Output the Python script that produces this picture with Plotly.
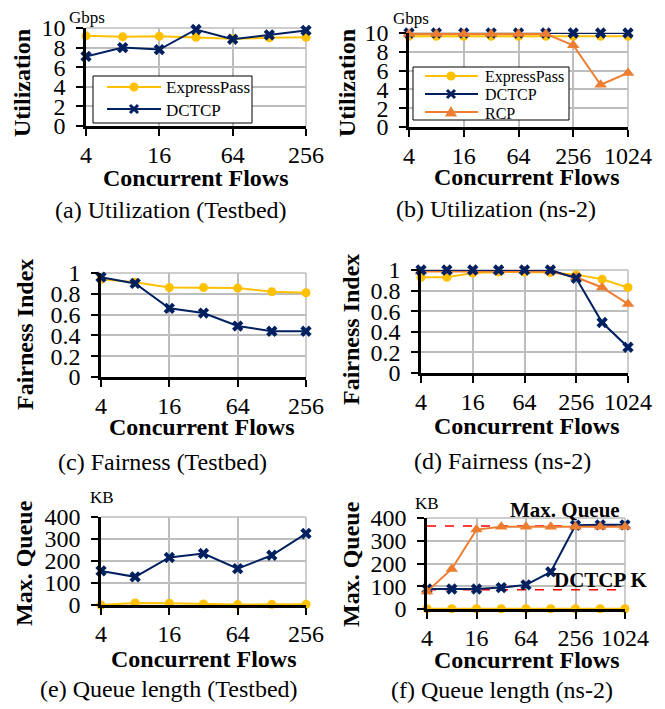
import math
import plotly.graph_objects as go

# page offset of the plot div (browser default body margin)
OFF = 8
FW, FH = 657, 701

# ---------------- data ----------------
flows_tb = [4, 8, 16, 32, 64, 128, 256]
flows_ns = [4, 8, 16, 32, 64, 128, 256, 512, 1024]
x_ticks_tb = [4, 16, 64, 256]
x_ticks_ns = [4, 16, 64, 256, 1024]

util_tb_ep = [9.2, 9.1, 9.15, 9.05, 8.9, 9.0, 9.05]
util_tb_dctcp = [7.1, 8.0, 7.8, 9.85, 8.85, 9.3, 9.75]
util_ns_ep = [9.65, 9.65, 9.65, 9.65, 9.65, 9.65, 9.65, 9.65, 9.65]
util_ns_dctcp = [10.0, 10.0, 10.0, 10.0, 10.0, 10.0, 10.0, 10.0, 10.0]
util_ns_rcp = [9.9, 9.9, 9.9, 9.9, 9.9, 9.9, 8.7, 4.5, 5.75]

fair_tb_ep = [0.94, 0.91, 0.86, 0.86, 0.855, 0.82, 0.81]
fair_tb_dctcp = [0.96, 0.90, 0.66, 0.615, 0.49, 0.44, 0.44]
fair_ns_ep = [0.93, 0.93, 0.97, 0.98, 0.98, 0.975, 0.955, 0.91, 0.83]
fair_ns_dctcp = [1.0, 1.0, 1.0, 1.0, 1.0, 1.0, 0.92, 0.49, 0.25]
fair_ns_rcp = [0.985, 0.985, 0.985, 0.985, 0.99, 0.985, 0.93, 0.83, 0.67]

queue_tb_ep = [0, 9, 8, 5, 2, 3, 3]
queue_tb_dctcp = [155, 128, 216, 234, 165, 226, 325]
queue_ns_ep = [1, 1, 1, 1, 1, 1, 1, 1, 1]
queue_ns_dctcp = [88, 88, 88, 94, 106, 163, 368, 370, 370]
queue_ns_rcp = [77, 176, 349, 362, 362, 362, 362, 362, 362]
max_queue_kb = 365
dctcp_k_kb = 85

series_names = ["ExpressPass", "DCTCP", "RCP"]

# ---------------- style ----------------
FONT = "Liberation Serif"
C_EP = "#FFC000"
C_DC = "#002060"
C_RCP = "#ED7D31"
GRID = "#BDBDBD"
EPS = 1e-6


def px(x):
    return (x - OFF) / FW


def py(y):
    return 1 - (y - OFF) / FH


fig = go.Figure()

panels = [
    dict(xd=(86, 306), yd=(28, 126), flows=flows_tb, xt=x_ticks_tb, yr=(0, 10), dt=2),
    dict(xd=(409, 628), yd=(33, 127), flows=flows_ns, xt=x_ticks_ns, yr=(0, 10), dt=2),
    dict(xd=(101, 306), yd=(273, 377), flows=flows_tb, xt=x_ticks_tb, yr=(0, 1), dt=0.2),
    dict(xd=(421, 628), yd=(270, 373), flows=flows_ns, xt=x_ticks_ns, yr=(0, 1), dt=0.2),
    dict(xd=(101, 306), yd=(517, 605), flows=flows_tb, xt=x_ticks_tb, yr=(0, 400), dt=100),
    dict(xd=(427, 625), yd=(518, 609), flows=flows_ns, xt=x_ticks_ns, yr=(0, 400), dt=100),
]

layout_axes = {}
shapes = []
for i, p in enumerate(panels, start=1):
    sx = "" if i == 1 else str(i)
    xa = dict(
        domain=[px(p["xd"][0]), px(p["xd"][1])],
        anchor="y" + sx,
        type="log",
        range=[math.log10(p["flows"][0]) - EPS, math.log10(p["flows"][-1]) + EPS],
        tickvals=p["xt"],
        ticktext=[str(v) for v in p["xt"]],
        showgrid=True, gridcolor=GRID, gridwidth=1.5,
        showline=True, linecolor="black", linewidth=2.5,
        ticks="outside", ticklen=7, tickwidth=2, tickcolor="black",
        tickfont=dict(family=FONT, size=24, color="black"),
        ticklabelstandoff=-2,
        zeroline=False, automargin=False,
    )
    ya = dict(
        domain=[py(p["yd"][1]), py(p["yd"][0])],
        anchor="x" + sx,
        range=list(p["yr"]),
        dtick=p["dt"], tick0=0,
        showgrid=True, gridcolor=GRID, gridwidth=1.5,
        showline=True, linecolor="black", linewidth=2.5,
        ticks="outside", ticklen=7, tickwidth=2, tickcolor="black",
        tickfont=dict(family=FONT, size=24, color="black"),
        ticklabelstandoff=6,
        zeroline=False, automargin=False,
    )
    layout_axes["xaxis" + sx] = xa
    layout_axes["yaxis" + sx] = ya
    shapes.append(dict(type="line", xref="x%s domain" % sx, yref="y%s domain" % sx,
                       x0=0, x1=1, y0=1, y1=1, line=dict(color=GRID, width=1.5), layer="below"))
    shapes.append(dict(type="line", xref="x%s domain" % sx, yref="y%s domain" % sx,
                       x0=1, x1=1, y0=0, y1=1, line=dict(color=GRID, width=1.5), layer="below"))

STYLE = {
    "ExpressPass": (C_EP, "circle", 9),
    "DCTCP": (C_DC, "x", 10),
    "RCP": (C_RCP, "triangle-up", 11),
}


def add(i, x, y, name):
    sx = "" if i == 1 else str(i)
    color, sym, size = STYLE[name]
    fig.add_trace(go.Scatter(
        x=x, y=y, name=name, mode="lines+markers",
        xaxis="x" + sx, yaxis="y" + sx,
        line=dict(color=color, width=2),
        marker=dict(symbol=sym, size=size, color=color, line=dict(width=0)),
        cliponaxis=False, showlegend=False,
    ))


add(1, flows_tb, util_tb_ep, "ExpressPass")
add(1, flows_tb, util_tb_dctcp, "DCTCP")
add(2, flows_ns, util_ns_ep, "ExpressPass")
add(2, flows_ns, util_ns_dctcp, "DCTCP")
add(2, flows_ns, util_ns_rcp, "RCP")
add(3, flows_tb, fair_tb_ep, "ExpressPass")
add(3, flows_tb, fair_tb_dctcp, "DCTCP")
add(4, flows_ns, fair_ns_ep, "ExpressPass")
add(4, flows_ns, fair_ns_rcp, "RCP")
add(4, flows_ns, fair_ns_dctcp, "DCTCP")
add(5, flows_tb, queue_tb_ep, "ExpressPass")
add(5, flows_tb, queue_tb_dctcp, "DCTCP")
for val in (max_queue_kb, dctcp_k_kb):
    fig.add_trace(go.Scatter(
        x=[flows_ns[0], flows_ns[-1]], y=[val, val], mode="lines",
        xaxis="x6", yaxis="y6", line=dict(color="#FF0000", width=1.5, dash="dash"),
        showlegend=False, hoverinfo="skip", cliponaxis=False,
    ))
add(6, flows_ns, queue_ns_ep, "ExpressPass")
add(6, flows_ns, queue_ns_dctcp, "DCTCP")
add(6, flows_ns, queue_ns_rcp, "RCP")

ann = []


def text(x, y, s, size, bold=False, angle=0, xanchor="center"):
    ann.append(dict(
        x=px(x), y=py(y), xref="paper", yref="paper", showarrow=False,
        text="<b>%s</b>" % s if bold else s, textangle=angle,
        xanchor=xanchor, yanchor="middle",
        font=dict(family=FONT, size=size, color="black"),
    ))


# ---------------- legends (drawn as layout decoration) ----------------
def legend_box(box, rows, lx0, lx1, mx, tx, names, fsize):
    x0, y0, x1, y1 = box
    shapes.append(dict(type="rect", xref="paper", yref="paper",
                       x0=px(x0), x1=px(x1), y0=py(y1), y1=py(y0),
                       fillcolor="white", line=dict(color="black", width=1), layer="above"))
    for ry, name in zip(rows, names):
        color = STYLE[name][0]
        shapes.append(dict(type="line", xref="paper", yref="paper",
                           x0=px(lx0), x1=px(lx1), y0=py(ry), y1=py(ry),
                           line=dict(color=color, width=2), layer="above"))
        if name == "ExpressPass":
            r = 4.5
            shapes.append(dict(type="circle", xref="paper", yref="paper",
                               x0=px(mx - r), x1=px(mx + r), y0=py(ry + r), y1=py(ry - r),
                               fillcolor=color, line=dict(width=0), layer="above"))
        elif name == "DCTCP":
            r = 4
            path = "M%f,%f L%f,%f M%f,%f L%f,%f" % (
                px(mx - r), py(ry - r), px(mx + r), py(ry + r),
                px(mx - r), py(ry + r), px(mx + r), py(ry - r))
            shapes.append(dict(type="path", xref="paper", yref="paper", path=path,
                               line=dict(color=color, width=3), layer="above"))
        else:
            path = "M%f,%f L%f,%f L%f,%f Z" % (
                px(mx - 6), py(ry + 4.5), px(mx + 6), py(ry + 4.5), px(mx), py(ry - 6))
            shapes.append(dict(type="path", xref="paper", yref="paper", path=path,
                               fillcolor=color, line=dict(width=0), layer="above"))
        text(tx, ry + 1, name, fsize, xanchor="left")


legend_box((93, 76, 252, 123), [87, 109], 107, 161, 134, 164, series_names[:2], 17)
legend_box((413, 67, 569, 120), [76, 94, 112], 425, 478, 451, 483, series_names, 16)

# y titles
text(22, 83, "Utilization", 24, True, -90)
text(347, 83, "Utilization", 24, True, -90)
text(25, 335, "Fairness Index", 24, True, -90)
text(351, 330, "Fairness Index", 24, True, -90)
text(24, 563, "Max. Queue", 24, True, -90)
text(351, 564, "Max. Queue", 24, True, -90)
# x titles
text(196, 178, "Concurrent Flows", 24, True)
text(527, 177, "Concurrent Flows", 24, True)
text(202, 427, "Concurrent Flows", 24, True)
text(527, 426, "Concurrent Flows", 24, True)
text(204, 659, "Concurrent Flows", 24, True)
text(527, 660, "Concurrent Flows", 24, True)
# captions
text(171, 210, "(a) Utilization (Testbed)", 24)
text(496, 209, "(b) Utilization (ns-2)", 24)
text(162, 462, "(c) Fairness (Testbed)", 24)
text(502, 461, "(d) Fairness (ns-2)", 24)
text(169, 689, "(e) Queue length (Testbed)", 24)
text(502, 690, "(f) Queue length (ns-2)", 24)
# units
text(67, 17, "Gbps", 17, xanchor="left")
text(391, 19, "Gbps", 17, xanchor="left")
text(88, 498, "KB", 17, xanchor="left")
text(413, 503, "KB", 17, xanchor="left")
# reference line labels
text(622, 510, "Max. Queue", 21, True, xanchor="right")
text(649, 580, "DCTCP K", 21, True, xanchor="right")

fig.update_layout(
    width=FW, height=FH,
    margin=dict(l=0, r=0, t=0, b=0, pad=0, autoexpand=False),
    paper_bgcolor="white", plot_bgcolor="white",
    font=dict(family=FONT, color="black"),
    annotations=ann, shapes=shapes, showlegend=False,
    **layout_axes,
)

fig.write_html("out.html")
